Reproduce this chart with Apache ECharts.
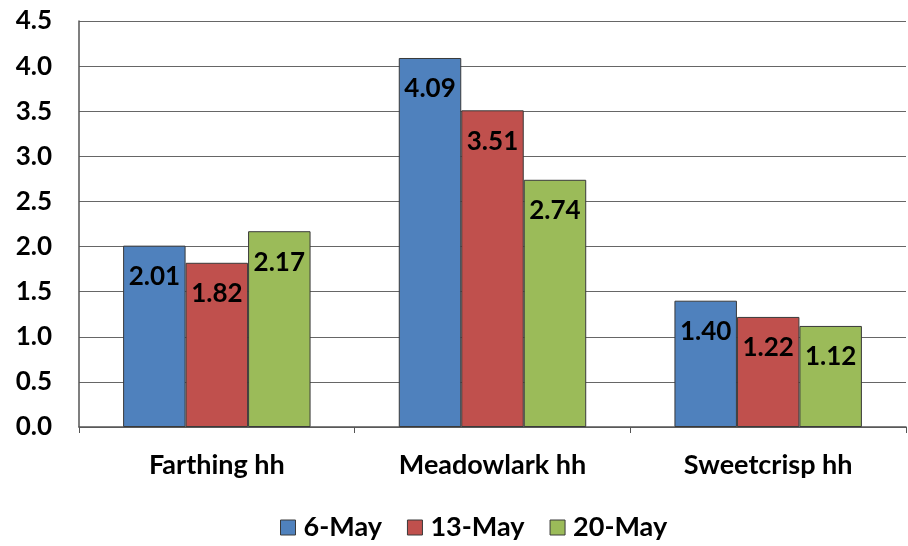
<!DOCTYPE html>
<html>
<head>
<meta charset="utf-8">
<script src="https://cdn.jsdelivr.net/npm/echarts@6/dist/echarts.min.js"></script>
<style>
  html, body { margin: 0; padding: 0; background: #fff; }
  #chart { width: 908px; height: 546px; }
</style>
</head>
<body>
<div id="chart"></div>
<script>
const categories = ['Farthing hh', 'Meadowlark hh', 'Sweetcrisp hh'];
const seriesNames = ['6-May', '13-May', '20-May'];
const may6 = [2.01, 4.09, 1.40];
const may13 = [1.82, 3.51, 1.22];
const may20 = [2.17, 2.74, 1.12];
const colors = ['#4F81BD', '#C0504D', '#9BBB59'];

const font = 'Lato, "Open Sans", sans-serif';

const chart = echarts.init(document.getElementById('chart'));

const makeSeries = (name, data, color) => ({
  name,
  type: 'bar',
  data,
  barGap: '0%',
  barCategoryGap: '32%',
  itemStyle: { color, borderColor: '#3a3a3a', borderWidth: 1 },
  label: {
    show: true,
    position: 'insideTop',
    distance: 18,
    formatter: (p) => p.value.toFixed(2),
    color: '#000',
    fontFamily: font,
    fontWeight: 'bold',
    fontSize: 26
  }
});

chart.setOption({
  animation: false,
  color: colors,
  grid: { left: 79, right: 2, top: 21, bottom: 119, containLabel: false },
  legend: {
    bottom: 0,
    left: 275,
    data: seriesNames,
    itemWidth: 15,
    itemHeight: 15,
    itemGap: 25,
    icon: 'rect',
    itemStyle: { borderColor: '#3a3a3a', borderWidth: 1 },
    textStyle: { fontFamily: font, fontWeight: 'bold', fontSize: 27, color: '#000', padding: [0, 0, 0, 3] }
  },
  xAxis: {
    type: 'category',
    data: categories,
    axisLine: { lineStyle: { color: '#555', width: 1.5 } },
    axisTick: { show: true, length: 6, alignWithLabel: false, lineStyle: { color: '#555' } },
    axisLabel: { margin: 25, fontFamily: font, fontWeight: 'bold', fontSize: 27, color: '#000' }
  },
  yAxis: {
    type: 'value',
    min: 0,
    max: 4.5,
    interval: 0.5,
    axisLine: { show: true, lineStyle: { color: '#555', width: 1.5 } },
    axisTick: { show: false },
    splitLine: { lineStyle: { color: '#666', width: 1.2 } },
    axisLabel: {
      margin: 27,
      formatter: (v) => v.toFixed(1),
      fontFamily: font,
      fontWeight: 'bold',
      fontSize: 26,
      color: '#000'
    }
  },
  series: [
    makeSeries(seriesNames[0], may6, colors[0]),
    makeSeries(seriesNames[1], may13, colors[1]),
    makeSeries(seriesNames[2], may20, colors[2])
  ]
});
</script>
</body>
</html>
